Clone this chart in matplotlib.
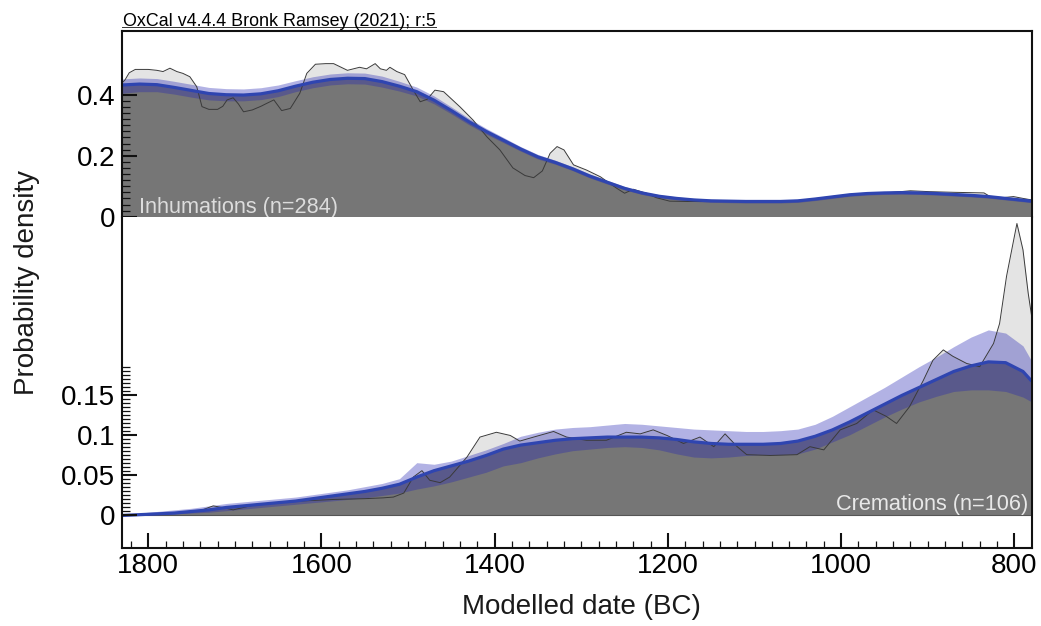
import numpy as np
import matplotlib
matplotlib.use('Agg')
import matplotlib.pyplot as plt
from matplotlib.ticker import FixedLocator
from matplotlib.lines import Line2D

plt.rcParams['font.family'] = ['Liberation Sans', 'DejaVu Sans']

# ---------------- data ----------------
grid_years = [1830, 1810, 1790, 1770, 1750, 1730, 1710, 1690, 1670, 1650,
              1630, 1610, 1590, 1570, 1550, 1530, 1510, 1490, 1470, 1450,
              1430, 1410, 1390, 1370, 1350, 1330, 1310, 1290, 1270, 1250,
              1230, 1210, 1190, 1170, 1150, 1130, 1110, 1090, 1070, 1050,
              1030, 1010, 990, 970, 950, 930, 910, 890, 870, 850,
              830, 810, 790, 780]

# Inhumations (n=284)
inh_mean = [0.432, 0.435, 0.433, 0.424, 0.414, 0.404, 0.400, 0.399, 0.403, 0.413,
            0.428, 0.441, 0.450, 0.454, 0.453, 0.443, 0.428, 0.410, 0.382, 0.348,
            0.312, 0.280, 0.251, 0.222, 0.196, 0.178, 0.157, 0.133, 0.113, 0.093,
            0.078, 0.067, 0.060, 0.055, 0.052, 0.051, 0.050, 0.050, 0.050, 0.052,
            0.058, 0.065, 0.072, 0.076, 0.078, 0.079, 0.078, 0.076, 0.073, 0.070,
            0.066, 0.060, 0.054, 0.051]
inh_upper = [0.452, 0.455, 0.453, 0.444, 0.434, 0.424, 0.420, 0.419, 0.423, 0.432,
             0.446, 0.459, 0.468, 0.472, 0.471, 0.461, 0.444, 0.425, 0.396, 0.360,
             0.323, 0.290, 0.260, 0.230, 0.204, 0.185, 0.164, 0.140, 0.119, 0.099,
             0.083, 0.072, 0.065, 0.060, 0.057, 0.056, 0.055, 0.055, 0.055, 0.057,
             0.063, 0.070, 0.077, 0.081, 0.083, 0.084, 0.083, 0.081, 0.078, 0.075,
             0.071, 0.065, 0.059, 0.056]
inh_lower = [0.405, 0.410, 0.410, 0.402, 0.392, 0.383, 0.380, 0.380, 0.384, 0.394,
             0.410, 0.423, 0.432, 0.436, 0.435, 0.425, 0.412, 0.396, 0.370, 0.337,
             0.302, 0.271, 0.243, 0.215, 0.189, 0.172, 0.151, 0.127, 0.107, 0.088,
             0.073, 0.062, 0.055, 0.050, 0.047, 0.046, 0.045, 0.045, 0.045, 0.047,
             0.053, 0.060, 0.067, 0.071, 0.073, 0.074, 0.073, 0.071, 0.068, 0.065,
             0.061, 0.055, 0.049, 0.046]
inh_raw_years = [1830, 1827, 1822, 1815, 1800, 1790, 1783, 1775, 1767, 1760,
                 1752, 1744, 1738, 1730, 1720, 1714, 1709, 1702, 1696, 1690,
                 1680, 1670, 1663, 1655, 1646, 1636, 1625, 1617, 1607, 1595,
                 1586, 1570, 1563, 1556, 1548, 1538, 1532, 1525, 1521, 1513,
                 1504, 1494, 1486, 1478, 1469, 1459, 1440, 1425, 1409, 1394,
                 1379, 1365, 1355, 1345, 1336, 1328, 1320, 1309, 1294, 1278,
                 1259, 1250, 1240, 1225, 1213, 1198, 1178, 1140, 1063, 1020,
                 986, 948, 920, 897, 870, 835, 828, 815, 801, 790, 780]
inh_raw = [0.440, 0.448, 0.472, 0.483, 0.483, 0.480, 0.476, 0.487, 0.476, 0.470,
           0.459, 0.426, 0.361, 0.352, 0.352, 0.362, 0.383, 0.390, 0.370, 0.344,
           0.350, 0.362, 0.372, 0.383, 0.348, 0.355, 0.405, 0.470, 0.500, 0.502,
           0.502, 0.480, 0.485, 0.490, 0.485, 0.502, 0.485, 0.480, 0.490, 0.476,
           0.466, 0.415, 0.377, 0.385, 0.415, 0.410, 0.360, 0.317, 0.262, 0.219,
           0.160, 0.135, 0.128, 0.150, 0.208, 0.230, 0.219, 0.170, 0.153, 0.131,
           0.093, 0.077, 0.090, 0.077, 0.062, 0.051, 0.050, 0.050, 0.050, 0.060,
           0.071, 0.078, 0.085, 0.082, 0.080, 0.078, 0.066, 0.062, 0.066, 0.060, 0.055]

# Cremations (n=106)
cre_mean = [0.000, 0.001, 0.002, 0.003, 0.005, 0.007, 0.010, 0.012, 0.014, 0.016,
            0.018, 0.021, 0.024, 0.027, 0.030, 0.034, 0.039, 0.048, 0.056, 0.062,
            0.068, 0.075, 0.083, 0.088, 0.091, 0.094, 0.096, 0.097, 0.098, 0.098,
            0.098, 0.097, 0.095, 0.092, 0.090, 0.089, 0.089, 0.089, 0.090, 0.093,
            0.099, 0.107, 0.117, 0.128, 0.139, 0.150, 0.160, 0.170, 0.180, 0.187,
            0.192, 0.191, 0.180, 0.168]
cre_upper = [0.001, 0.003, 0.005, 0.007, 0.009, 0.012, 0.015, 0.017, 0.019, 0.021,
             0.023, 0.026, 0.029, 0.032, 0.036, 0.040, 0.046, 0.066, 0.064, 0.068,
             0.075, 0.082, 0.090, 0.099, 0.104, 0.108, 0.110, 0.111, 0.113, 0.115,
             0.114, 0.112, 0.110, 0.108, 0.107, 0.106, 0.105, 0.105, 0.106, 0.108,
             0.114, 0.124, 0.136, 0.148, 0.160, 0.173, 0.186, 0.198, 0.211, 0.223,
             0.232, 0.228, 0.212, 0.193]
cre_lower = [0.000, 0.000, 0.001, 0.002, 0.003, 0.004, 0.006, 0.008, 0.010, 0.012,
             0.014, 0.016, 0.018, 0.020, 0.022, 0.025, 0.028, 0.033, 0.037, 0.042,
             0.048, 0.054, 0.062, 0.066, 0.072, 0.077, 0.081, 0.083, 0.085, 0.086,
             0.085, 0.082, 0.077, 0.073, 0.072, 0.073, 0.075, 0.076, 0.076, 0.077,
             0.083, 0.092, 0.101, 0.112, 0.123, 0.133, 0.142, 0.149, 0.155, 0.157,
             0.157, 0.155, 0.148, 0.142]
cre_raw_years = [1830, 1780, 1740, 1725, 1710, 1702, 1690, 1675, 1625, 1586,
                 1550, 1529, 1517, 1505, 1494, 1484, 1475, 1463, 1452, 1432,
                 1417, 1398, 1382, 1371, 1355, 1332, 1317, 1294, 1271, 1248,
                 1232, 1217, 1201, 1182, 1163, 1147, 1134, 1120, 1109, 1082,
                 1051, 1036, 1020, 1001, 982, 963, 948, 936, 921, 905,
                 894, 882, 871, 855, 840, 824, 817, 809, 797, 790, 784, 780]
cre_raw = [0.000, 0.002, 0.006, 0.012, 0.009, 0.007, 0.010, 0.014, 0.018, 0.020,
           0.021, 0.022, 0.023, 0.028, 0.048, 0.056, 0.044, 0.041, 0.048, 0.073,
           0.098, 0.104, 0.100, 0.093, 0.098, 0.105, 0.098, 0.094, 0.094, 0.104,
           0.102, 0.107, 0.100, 0.090, 0.098, 0.086, 0.102, 0.086, 0.076, 0.075,
           0.076, 0.086, 0.082, 0.107, 0.115, 0.132, 0.124, 0.115, 0.136, 0.169,
           0.194, 0.207, 0.199, 0.190, 0.186, 0.215, 0.240, 0.299, 0.365, 0.332, 0.278, 0.249]

x_major = [1800, 1600, 1400, 1200, 1000, 800]
x_major_labels = ['1800', '1600', '1400', '1200', '1000', '800']
inh_yticks = [0, 0.2, 0.4]
inh_ytick_labels = ['0', '0.2', '0.4']
cre_yticks = [0, 0.05, 0.1, 0.15]
cre_ytick_labels = ['0', '0.05', '0.1', '0.15']

# ---------------- figure ----------------
fig = plt.figure(figsize=(10.41, 6.26), dpi=100)
ax_top = fig.add_axes([0.11748, 0.65383, 0.87387, 0.29713])
ax_bot = fig.add_axes([0.11748, 0.12508, 0.87387, 0.52875], sharex=ax_top)

RAW_FILL = '#e4e4e4'
KDE_FILL = '#767676'
BAND = '#2424b4'
BLUE = '#2f45b0'
INK = '#111111'


def draw(ax, rx, ry, mean, lower, upper):
    ax.fill_between(rx, 0, ry, color=RAW_FILL, lw=0, zorder=0.5)
    ax.fill_between(grid_years, 0, mean, color=KDE_FILL, lw=0, zorder=0.6)
    ax.fill_between(grid_years, lower, upper, color=BAND, alpha=0.35, lw=0, zorder=0.7)
    ax.plot(rx, ry, color='#3a3a3a', lw=0.7, zorder=0.8)
    ax.plot(grid_years, mean, color=BLUE, lw=2.3, zorder=0.9, solid_capstyle='butt')


draw(ax_top, inh_raw_years, inh_raw, inh_mean, inh_lower, inh_upper)
draw(ax_bot, cre_raw_years, cre_raw, cre_mean, cre_lower, cre_upper)
ax_bot.axhline(0, color='#555555', lw=0.8, zorder=0.65)

ax_top.set_xlim(1830, 779.6)
ax_top.set_ylim(0, 0.610)
ax_bot.set_ylim(-0.0403, 0.3735)

for ax in (ax_top, ax_bot):
    for s in ax.spines.values():
        s.set_linewidth(1.5)
        s.set_color(INK)
ax_top.spines['bottom'].set_visible(False)
ax_bot.spines['top'].set_visible(False)

# top axes ticks
ax_top.tick_params(axis='x', which='both', bottom=False, top=False, labelbottom=False)
ax_top.set_yticks(inh_yticks)
ax_top.set_yticklabels(inh_ytick_labels)
ax_top.yaxis.set_minor_locator(FixedLocator(np.arange(0, 0.4001, 0.02)))
ax_top.tick_params(axis='y', which='major', direction='in', length=11, width=1.5,
                   labelsize=20, pad=5, color=INK)
ax_top.tick_params(axis='y', which='minor', direction='in', length=5.5, width=0.9,
                   color=INK)

# bottom axes ticks
ax_bot.set_xticks(x_major)
ax_bot.set_xticklabels(x_major_labels)
ax_bot.xaxis.set_minor_locator(FixedLocator(np.arange(800, 1821, 20)))
ax_bot.tick_params(axis='x', which='major', direction='in', length=11, width=1.5,
                   labelsize=20, pad=4, color=INK)
ax_bot.tick_params(axis='x', which='minor', direction='in', length=5, width=0.9,
                   color=INK)
ax_bot.set_yticks(cre_yticks)
ax_bot.set_yticklabels(cre_ytick_labels)
ax_bot.yaxis.set_minor_locator(FixedLocator(np.arange(0, 0.1851, 0.005)))
ax_bot.tick_params(axis='y', which='major', direction='in', length=11, width=1.5,
                   labelsize=20, pad=5, color=INK)
ax_bot.tick_params(axis='y', which='minor', direction='in', length=5.5, width=0.9,
                   color=INK)

# panel labels
ax_top.text(1810.7, 0.011, 'Inhumations (n=284)', color='#dcdcdc', fontsize=15.6,
            ha='left', va='baseline', zorder=3)
ax_bot.text(784.2, 0.0069, 'Cremations (n=106)', color='#e8e8e8', fontsize=15.7,
            ha='right', va='baseline', zorder=3)

# axis labels and header
fig.text(27 / 1041, 1 - 283 / 626, 'Probability density', rotation=90,
         ha='center', va='center', fontsize=20, color='#1a1a1a')
fig.text(581 / 1041, 1 - 607 / 626, 'Modelled date (BC)', ha='center', va='center',
         fontsize=20, color='#1a1a1a')
fig.text(123 / 1041, 1 - 25.5 / 626, 'OxCal v4.4.4 Bronk Ramsey (2021); r:5',
         ha='left', va='baseline', fontsize=12.9)
fig.add_artist(Line2D([122 / 1041, 436 / 1041], [1 - 27 / 626, 1 - 27 / 626],
                      color='#333333', lw=0.7))

fig.savefig('out.png', dpi=100)
